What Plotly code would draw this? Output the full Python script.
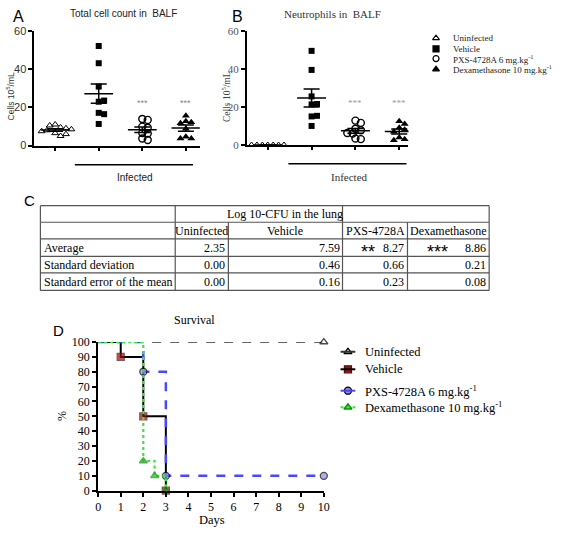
import numpy as np
import plotly.graph_objects as go

W, H = 567, 536
SERIF = "Liberation Serif, Times New Roman, serif"
SANS = "Liberation Sans, Arial, sans-serif"

# ---------------- data ----------------
group_names = ["Uninfected", "Vehicle", "PXS-4728A 6 mg.kg<sup>-1</sup>",
               "Dexamethasone 10 mg.kg<sup>-1</sup>"]

total_uninf = [11.0, 9.5, 10.5, 6.5, 5.0, 8.0, 6.0, 7.5, 9.0, 8.5]
total_veh = [52.0, 43.0, 30.8, 22.9, 23.5, 17.1, 16.4, 11.3]
total_pxs = [13.9, 13.4, 9.9, 9.3, 6.6, 6.3, 3.7, 2.9]
total_dex = [15.6, 12.7, 12.2, 11.7, 8.8, 4.6, 3.7, 3.7]

neut_uninf = [0, 0, 0, 0, 0, 0, 0]
neut_veh = [49.4, 39.4, 25.5, 21.3, 21.5, 15.0, 15.3, 10.0]
neut_pxs = [12.8, 11.6, 8.5, 7.7, 6.0, 6.3, 3.4, 3.1]
neut_dex = [12.5, 11.0, 9.0, 8.0, 7.0, 4.0, 3.0, 2.5]

signif_label = "***"
signif_groups = [3, 4]
signif_level = 22

table_title = "Log 10-CFU in the lung"
table_cols = ["Uninfected", "Vehicle", "PXS-4728A", "Dexamethasone"]
table_rows = ["Average", "Standard deviation", "Standard error of the mean"]
cfu_average = [2.35, 7.59, 8.27, 8.86]
cfu_sd = [0.00, 0.46, 0.66, 0.21]
cfu_sem = [0.00, 0.16, 0.23, 0.08]
cfu_signif = ["", "", "**", "***"]

uninf_days, uninf_surv = [0, 10], [100, 100]
veh_days, veh_surv = [0, 1, 2, 3], [100, 90, 50, 0]
pxs_days, pxs_surv = [0, 2, 3, 10], [100, 80, 10, 10]
dex_days, dex_surv = [0, 2, 2.5, 3], [100, 20, 10, 0]

# ---------------- helpers ----------------
def swarm(vals, ypu, xpu, d=5.5, step=2.75):
    placed, offs = [], []
    for v in vals:
        y = v * ypu
        for k in range(60):
            c = ((k + 1) // 2) * step * (1 if k % 2 else -1)
            if all((c - px) ** 2 + (y - py) ** 2 >= d * d for px, py in placed):
                break
        placed.append((c, y))
        offs.append(c / xpu)
    return offs

def dom_x(a, b):
    return [a / W, b / W]

def dom_y(top, bottom):
    return [1 - bottom / H, 1 - top / H]

fig = go.Figure()

styles = [
    dict(symbol="triangle-up-open", size=6, color="black", line=dict(width=1, color="black")),
    dict(symbol="square", size=6, color="black", line=dict(width=0)),
    dict(symbol="circle-open", size=7, color="black", line=dict(width=1.4, color="black")),
    dict(symbol="triangle-up", size=7, color="black", line=dict(width=0)),
]

def dot_panel(datasets, xa, ya, ypu, xpu):
    for gi, vals in enumerate(datasets):
        g = gi + 1
        offs = swarm(vals, ypu, xpu)
        fig.add_trace(go.Scatter(x=[g + o for o in offs], y=vals, mode="markers",
                                 marker=styles[gi], xaxis=xa, yaxis=ya,
                                 showlegend=False, cliponaxis=False))
        m = float(np.mean(vals))
        sem = float(np.std(vals, ddof=1) / np.sqrt(len(vals)))
        fig.add_trace(go.Scatter(x=[g - 0.33, g + 0.33], y=[m, m], mode="lines",
                                 line=dict(color="black", width=1.5), xaxis=xa, yaxis=ya,
                                 showlegend=False, cliponaxis=False))
        fig.add_trace(go.Scatter(x=[g], y=[m], mode="markers", marker=dict(size=1, opacity=0),
                                 error_y=dict(type="data", array=[sem], color="black",
                                              thickness=1.5, width=8),
                                 xaxis=xa, yaxis=ya, showlegend=False, cliponaxis=False))

dot_panel([total_uninf, total_veh, total_pxs, total_dex], "x", "y", 118 / 60, 44.3)
dot_panel([neut_uninf, neut_veh, neut_pxs, neut_dex], "x2", "y2", 117.4 / 60, 44.5)

# ---------------- survival ----------------
def surv_trace(days, surv, color, dash, width, msym, mfill, mline, msize=7):
    sizes = [0] + [msize] * (len(days) - 1)
    return go.Scatter(x=days, y=surv, mode="lines+markers", line_shape="hv",
                      line=dict(color=color, dash=dash, width=width),
                      marker=dict(symbol=msym, size=sizes, color=mfill,
                                  line=dict(color=mline, width=1.3)),
                      xaxis="x3", yaxis="y3", showlegend=False, cliponaxis=False)

fig.add_trace(surv_trace(uninf_days, uninf_surv, "#333333", "dash", 1.5,
                         "triangle-up", "white", "black"))
fig.add_trace(surv_trace(veh_days, veh_surv, "black", "solid", 2,
                         "square", "#a01010", "#501010"))
fig.add_trace(surv_trace(pxs_days, pxs_surv, "#4848ff", "dash", 2.5,
                         "circle", "#8c8cf0", "black"))
fig.add_trace(surv_trace(dex_days, dex_surv, "#30ee30", "dot", 2.2,
                         "triangle-up", "#22b022", "#119011"))

# ---------------- annotations / shapes ----------------
ann = []
shapes = []

def text(x, y, t, size, family, color="black", xanchor="center", yanchor="middle", angle=0):
    ann.append(dict(x=x, y=y, xref="x4", yref="y4", text=t, showarrow=False,
                    font=dict(size=size, family=family, color=color),
                    xanchor=xanchor, yanchor=yanchor, textangle=angle))

def line(x0, y0, x1, y1, color="black", width=1, dash="solid"):
    shapes.append(dict(type="line", x0=x0, y0=y0, x1=x1, y1=y1, xref="x4", yref="y4",
                       line=dict(color=color, width=width, dash=dash)))

# panel labels and titles
text(16, 10, "A", 16, SANS)
text(238, 10, "B", 16, SANS)
text(27, 199, "C", 15, SANS)
text(56, 332, "D", 15, SANS)
text(122, 7, "Total cell count in  BALF", 10, SANS, "#222")
text(335, 7, "Neutrophils in  BALF", 11, SERIF, "#333")
text(8, 92, "Cells 10<sup>5</sup>/mL", 8.5, SANS, "#333", angle=-90)
text(226, 92, "Cells 10<sup>5</sup>/mL", 9.5, SERIF, "#444", angle=-90)

# infected brackets
line(73, 162, 193, 162, width=1.5)
text(134, 175, "Infected", 10, SANS, "#222")
line(290, 161, 410, 161, width=1.5)
text(352, 175, "Infected", 11, SERIF, "#333")

# significance stars
for g in signif_groups:
    ann.append(dict(x=g, y=signif_level, xref="x", yref="y", text=signif_label, showarrow=False,
                    font=dict(size=9, family=SANS, color="#888")))
    ann.append(dict(x=g, y=signif_level, xref="x2", yref="y2", text=signif_label, showarrow=False,
                    font=dict(size=9, family=SERIF, color="#999")))

# legend for A/B (manual)
leg_y = [32, 43, 53, 64]
fig.add_trace(go.Scatter(x=[440] * 4, y=leg_y, mode="markers",
                         marker=dict(symbol=[s["symbol"] for s in styles], size=6, color="black",
                                     line=dict(width=1.2, color="black")),
                         xaxis="x4", yaxis="y4", showlegend=False, cliponaxis=False))
for yy, name in zip(leg_y, group_names):
    text(455, yy, name, 9, SERIF, "#222", xanchor="left")

# table
col_x = [38, 175, 229, 345, 411, 494]
row_y = [204, 221, 238, 256, 273, 291]
tc = "#555"
for yy in row_y:
    line(col_x[0], yy, col_x[-1], yy, tc, 1.2)
for xx in [col_x[0], col_x[1], col_x[3], col_x[-1]]:
    line(xx, row_y[0], xx, row_y[1], tc, 1.2)
for xx in col_x:
    line(xx, row_y[1], xx, row_y[-1], tc, 1.2)
text((col_x[2] + col_x[3]) / 2, (row_y[0] + row_y[1]) / 2, table_title, 12, SERIF)
for ci, c in enumerate(table_cols):
    text((col_x[ci + 1] + col_x[ci + 2]) / 2, (row_y[1] + row_y[2]) / 2, c, 12, SERIF)
for ri, (rname, vals) in enumerate(zip(table_rows, [cfu_average, cfu_sd, cfu_sem])):
    yc = (row_y[ri + 2] + row_y[ri + 3]) / 2
    text(col_x[0] + 2, yc, rname, 12, SERIF, xanchor="left")
    for ci, v in enumerate(vals):
        text(col_x[ci + 2] - 1, yc, f"{v:.2f}", 12, SERIF, xanchor="right")
yc = (row_y[2] + row_y[3]) / 2
for ci, s in enumerate(cfu_signif):
    if s:
        text(col_x[ci + 1] + 18 + 4 * len(s), yc + 5, s, 18, SANS, xanchor="center")

# survival labels
text(195, 321, "Survival", 12, SERIF)
text(60, 420, "%", 12, SERIF, angle=-90)
text(212, 527, "Days", 12.5, SERIF)

# survival legend (manual)
sleg_y = [354, 372, 394, 411]
sleg_line = [("#333333", "solid", 2), ("black", "solid", 2), ("#4848ff", "solid", 2), ("#30ee30", "dot", 2)]
for yy, (c, dsh, w) in zip(sleg_y, sleg_line):
    line(343, yy, 358, yy, c, w, dsh)
fig.add_trace(go.Scatter(x=[350.5] * 4, y=sleg_y, mode="markers",
                         marker=dict(symbol=["triangle-up", "square", "circle", "triangle-up"],
                                     size=7, color=["white", "#a01010", "#8c8cf0", "#22b022"],
                                     line=dict(width=1.3, color=["black", "#501010", "black", "#119011"])),
                         xaxis="x4", yaxis="y4", showlegend=False, cliponaxis=False))
for yy, name in zip(sleg_y, group_names):
    text(366, yy, name, 12.5, SERIF, xanchor="left")

# ---------------- layout ----------------
common = dict(showgrid=False, zeroline=False, showline=True, linecolor="black", linewidth=2,
              ticks="outside", tickcolor="black", tickwidth=1.5)

fig.update_layout(
    width=W, height=H, margin=dict(l=0, r=0, t=0, b=0, pad=0),
    paper_bgcolor="white", plot_bgcolor="rgba(0,0,0,0)", showlegend=False,
    xaxis=dict(domain=dom_x(32, 200), range=[0.526, 4.32], anchor="y", tickvals=[1, 2, 3, 4],
               ticktext=[" "] * 4, ticklen=3, **common),
    yaxis=dict(domain=dom_y(24.3, 142.3), range=[0, 60], anchor="x", tickvals=[0, 20, 40, 60],
               ticklen=4, tickfont=dict(family=SANS, size=11, color="#333"), **common),
    xaxis2=dict(domain=dom_x(248, 412), range=[0.528, 4.21], anchor="y2", tickvals=[1, 2, 3, 4],
                ticktext=[" "] * 4, ticklen=3, **common),
    yaxis2=dict(domain=dom_y(24.3, 141.7), range=[0, 60], anchor="x2", tickvals=[0, 20, 40, 60],
                ticklen=4, tickfont=dict(family=SERIF, size=11, color="#555"), **common),
    xaxis3=dict(domain=dom_x(96.7, 326), range=[0, 10], anchor="y3", dtick=1,
                ticklen=4, tickfont=dict(family=SERIF, size=12, color="black"), **common),
    yaxis3=dict(domain=dom_y(344, 496.7), range=[0, 100], anchor="x3", dtick=10,
                ticklen=4, tickfont=dict(family=SERIF, size=12, color="black"), **common),
    xaxis4=dict(domain=[0, 1], range=[0, W], visible=False, anchor="y4", fixedrange=True),
    yaxis4=dict(domain=[0, 1], range=[H, 0], visible=False, anchor="x4", fixedrange=True),
    annotations=ann, shapes=shapes,
)

fig.write_html("out.html", config={"displayModeBar": False},
               post_script="document.body.style.margin='0';document.body.style.overflow='hidden';")
